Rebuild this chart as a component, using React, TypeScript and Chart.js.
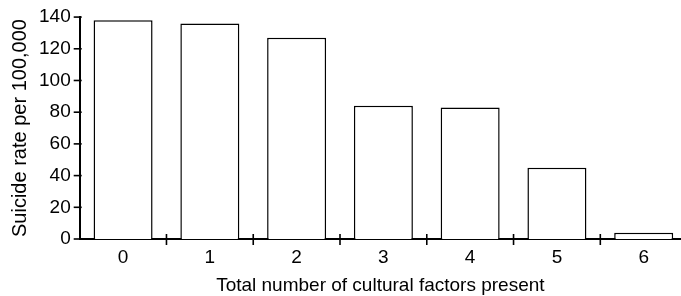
import React, { useEffect, useRef } from "react";
import { Chart, registerables } from "chart.js";

Chart.register(...registerables);

const categories = [0, 1, 2, 3, 4, 5, 6];
const tickLabels = ["0", "1", "2", "3", "4", "5", "6"];
const suicideRates = [138, 136, 127, 84, 83, 45, 4];
const yTicks = [0, 20, 40, 60, 80, 100, 120, 140];

const FONT = "'Liberation Sans', Arial, Helvetica, sans-serif";

const tickPlugin = {
  id: "crossTicks",
  afterDraw(chart: any) {
    const { ctx, scales } = chart;
    const x = scales.x;
    const y = scales.y;
    ctx.save();
    ctx.strokeStyle = "#000";
    ctx.lineWidth = 1.6;
    const yAxisX = x.getPixelForValue(-0.5);
    yTicks.forEach((v) => {
      const py = y.getPixelForValue(v);
      ctx.beginPath();
      ctx.moveTo(yAxisX - 6, py);
      ctx.lineTo(yAxisX + 2, py);
      ctx.stroke();
    });
    const baseY = y.getPixelForValue(0);
    for (let i = 0; i < categories.length - 1; i++) {
      const px = x.getPixelForValue(categories[i] + 0.5);
      ctx.beginPath();
      ctx.moveTo(px, baseY - 5);
      ctx.lineTo(px, baseY + 6);
      ctx.stroke();
    }
    ctx.restore();
  },
};

export default function App() {
  const ref = useRef<HTMLCanvasElement>(null);
  useEffect(() => {
    document.body.style.margin = "0";
    const chart = new Chart(ref.current!, {
      type: "bar",
      data: {
        datasets: [
          {
            data: categories.map((c, i) => ({ x: c, y: suicideRates[i] })),
            backgroundColor: "#fff",
            borderColor: "#000",
            borderWidth: 1.5,
            barPercentage: 0.68,
            categoryPercentage: 1,
          },
        ],
      },
      options: {
        animation: false,
        responsive: false,
        maintainAspectRatio: false,
        layout: { padding: { top: 0, right: 0, left: 3, bottom: 1 } },
        plugins: { legend: { display: false }, tooltip: { enabled: false } },
        scales: {
          x: {
            type: "linear",
            min: -0.5,
            max: 6.43,
            offset: false,
            grid: { display: false, drawTicks: false },
            border: { display: true, color: "#000", width: 2 },
            afterBuildTicks: (axis: any) => {
              axis.ticks = categories.map((v) => ({ value: v }));
            },
            ticks: {
              color: "#000",
              font: { family: FONT, size: 19, lineHeight: 1 },
              padding: 9,
              maxRotation: 0,
              autoSkip: false,
              callback: (v: any) => tickLabels[categories.indexOf(Number(v))] ?? "",
            },
            title: {
              display: true,
              text: "Total number of cultural factors present",
              color: "#000",
              font: { family: FONT, size: 19, lineHeight: 1 },
              padding: { top: 0, bottom: 0 },
            },
          },
          y: {
            min: 0,
            max: 140,
            grid: { display: false, drawTicks: false },
            border: { display: true, color: "#000", width: 2 },
            afterBuildTicks: (axis: any) => {
              axis.ticks = yTicks.map((v) => ({ value: v }));
            },
            ticks: {
              color: "#000",
              font: { family: FONT, size: 19, lineHeight: 0.85 },
              padding: 9,
            },
            title: {
              display: true,
              text: "Suicide rate per 100,000",
              color: "#000",
              font: { family: FONT, size: 20, lineHeight: 1 },
              padding: { top: 7, bottom: 0 },
            },
          },
        },
      },
      plugins: [tickPlugin],
    });
    return () => chart.destroy();
  }, []);
  return (
    <div style={{ width: 681, height: 296, position: "relative" }}>
      <canvas ref={ref} width={681} height={296} style={{ width: 681, height: 296 }} />
    </div>
  );
}
